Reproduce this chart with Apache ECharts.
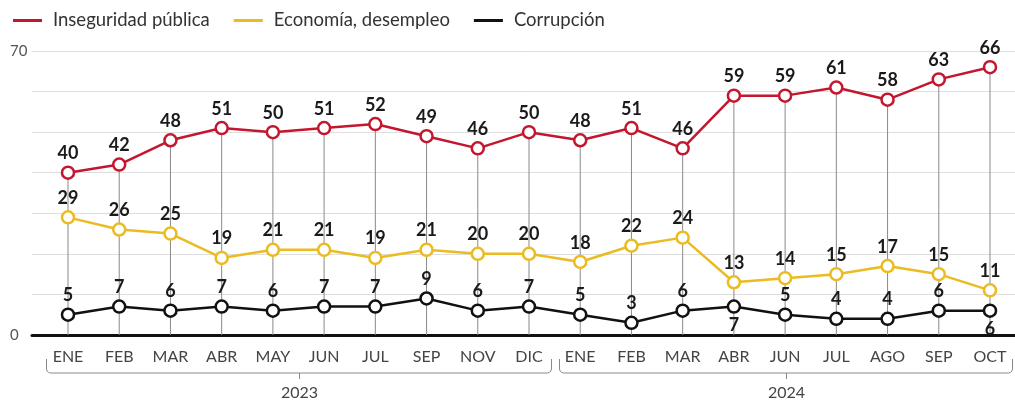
<!DOCTYPE html>
<html>
<head>
<meta charset="utf-8">
<script src="https://cdn.jsdelivr.net/npm/echarts@6/dist/echarts.min.js"></script>
<style>
  html, body { margin: 0; padding: 0; background: #fff; }
  #chart { width: 1015px; height: 405px; }
</style>
</head>
<body>
<div id="chart"></div>
<script>
// meses (dos años)
var meses = ["ENE", "FEB", "MAR", "ABR", "MAY", "JUN", "JUL", "SEP", "NOV", "DIC",
             "ENE", "FEB", "MAR", "ABR", "JUN", "JUL", "AGO", "SEP", "OCT"];
var inseguridad = [40, 42, 48, 51, 50, 51, 52, 49, 46, 50, 48, 51, 46, 59, 59, 61, 58, 63, 66];
var economia = [29, 26, 25, 19, 21, 21, 19, 21, 20, 20, 18, 22, 24, 13, 14, 15, 17, 15, 11];
var corrupcion = [5, 7, 6, 7, 6, 7, 7, 9, 6, 7, 5, 3, 6, 7, 5, 4, 4, 6, 6];
// etiquetas de corrupción que van debajo del punto
var corrupcionAbajo = [13, 18];
var anios = [
  { nombre: "2023", desde: 0, hasta: 9 },
  { nombre: "2024", desde: 10, hasta: 18 },
];
var yTicks = [0, 70];

var rojo = "#c3172f";
var amarillo = "#ebbb22";
var negro = "#111111";
var fuente = "Lato, 'Noto Sans', sans-serif";

var chart = echarts.init(document.getElementById("chart"));

function etiqueta() {
  return {
    show: true,
    position: "top",
    distance: 3,
    color: "#1a1a1a",
    fontFamily: fuente,
    fontWeight: "bold",
    fontSize: 18,
  };
}

function serieLinea(nombre, datos, color) {
  return {
    name: nombre,
    type: "line",
    xAxisIndex: 1,
    yAxisIndex: 1,
    data: datos,
    symbol: "circle",
    symbolSize: 12,
    showAllSymbol: true,
    z: 5,
    lineStyle: { color: color, width: 2.5 },
    itemStyle: { color: "#fff", borderColor: color, borderWidth: 2.5 },
    label: etiqueta(),
  };
}

var option = {
  backgroundColor: "#fff",
  animation: false,
  legend: {
    left: 8,
    top: 6,
    icon: "rect",
    itemWidth: 29,
    itemHeight: 3,
    itemGap: 24,
    textStyle: { color: "#333", fontFamily: fuente, fontSize: 18.5, padding: [0, 0, 0, 6] },
    data: [
      { name: "Inseguridad pública", itemStyle: { color: rojo, borderWidth: 0 } },
      { name: "Economía, desempleo", itemStyle: { color: amarillo, borderWidth: 0 } },
      { name: "Corrupción", itemStyle: { color: negro, borderWidth: 0 } },
    ],
  },
  grid: [
    { left: 32, right: 0, top: 51, bottom: 70 },
    { left: 68, right: 25, top: 51, bottom: 70 },
  ],
  xAxis: [
    {
      gridIndex: 0,
      type: "value",
      min: 0,
      max: 1,
      axisLine: { show: true, onZero: false, lineStyle: { color: "#111", width: 3 } },
      axisTick: { show: false },
      axisLabel: { show: false },
      splitLine: { show: false },
    },
    {
      gridIndex: 1,
      type: "category",
      data: meses,
      boundaryGap: false,
      axisLine: { show: false },
      axisTick: { show: false },
      splitLine: { show: false },
      axisLabel: {
        interval: 0,
        margin: 14,
        color: "#444",
        fontFamily: fuente,
        fontSize: 16,
      },
    },
  ],
  yAxis: [
    {
      gridIndex: 0,
      type: "value",
      min: 0,
      max: 70,
      interval: 10,
      axisLine: { show: false },
      axisTick: { show: false },
      splitLine: { show: true, lineStyle: { color: "#dedede", width: 1 } },
      axisLabel: {
        align: "left",
        margin: 22,
        color: "#555",
        fontFamily: fuente,
        fontSize: 15,
        formatter: function (v) {
          return yTicks.indexOf(v) >= 0 ? String(v) : "";
        },
      },
    },
    {
      gridIndex: 1,
      type: "value",
      min: 0,
      max: 70,
      show: false,
    },
  ],
  series: [
    {
      // líneas verticales desde el punto rojo hasta el eje
      name: "guia",
      type: "bar",
      xAxisIndex: 1,
      yAxisIndex: 1,
      data: inseguridad,
      barWidth: 1,
      z: 1,
      itemStyle: { color: "#8a8a8a" },
      silent: true,
    },
    serieLinea("Inseguridad pública", inseguridad, rojo),
    serieLinea("Economía, desempleo", economia, amarillo),
    (function () {
      var s = serieLinea("Corrupción", corrupcion, negro);
      s.data = corrupcion.map(function (v, i) {
        if (corrupcionAbajo.indexOf(i) >= 0) {
          return { value: v, label: { position: "bottom", distance: 2 } };
        }
        return v;
      });
      return s;
    })(),
  ],
};

chart.setOption(option);

// llaves de años bajo los meses
var px = function (i) {
  return chart.convertToPixel({ xAxisIndex: 1 }, i);
};
var paso = px(1) - px(0);
var yTop = 359, yBar = 373, yTick = 379;
var graficos = [];
anios.forEach(function (a) {
  var x1 = Math.round(px(a.desde) - paso * 0.42) + 0.5;
  var x2 = Math.round(px(a.hasta) + paso * 0.42) + 0.5;
  var xc = Math.round((x1 + x2) / 2) + 0.5;
  graficos.push({
    type: "polyline",
    shape: {
      points: [
        [x1, yTop], [x1, yBar - 4], [x1 + 0.6, yBar - 2], [x1 + 2, yBar - 0.6], [x1 + 4, yBar],
        [x2 - 4, yBar], [x2 - 2, yBar - 0.6], [x2 - 0.6, yBar - 2], [x2, yBar - 4], [x2, yTop],
      ],
    },
    style: { fill: null, stroke: "#8a8a8a", lineWidth: 1 },
    silent: true,
  });
  graficos.push({
    type: "line",
    shape: { x1: xc, y1: yBar, x2: xc, y2: yTick },
    style: { stroke: "#8a8a8a", lineWidth: 1 },
    silent: true,
  });
  graficos.push({
    type: "text",
    x: xc,
    y: 393,
    style: {
      text: a.nombre,
      fill: "#444",
      font: "16px " + fuente,
      textAlign: "center",
      textVerticalAlign: "middle",
    },
    silent: true,
  });
});
chart.setOption({ graphic: graficos });
</script>
</body>
</html>
